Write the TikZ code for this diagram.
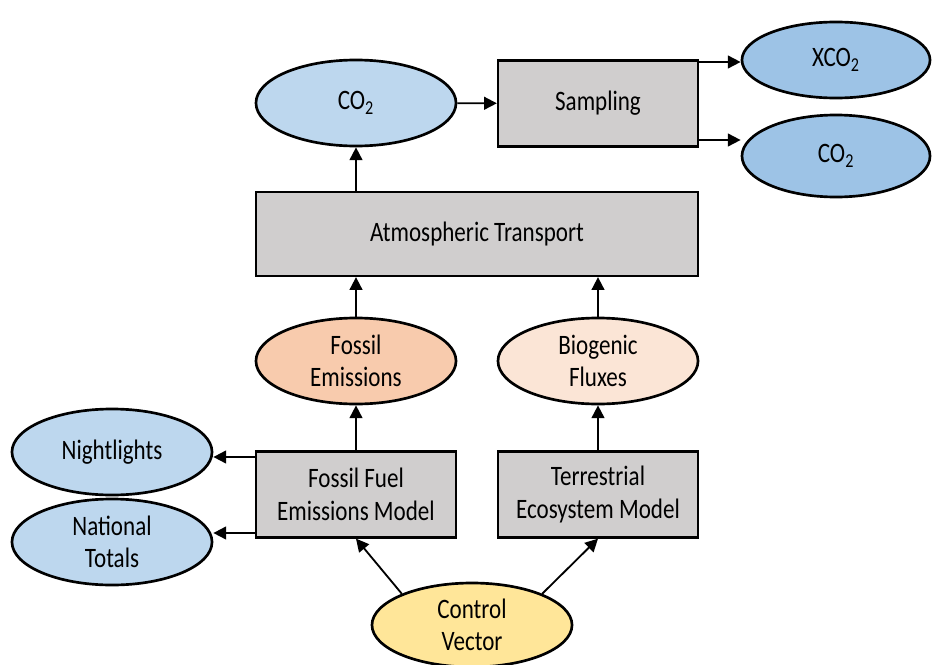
\documentclass[tikz,border=0pt]{standalone}
\usepackage{fontspec}
\setmainfont{Carlito}[FakeStretch=0.82]
\usepackage{tikz}
\usetikzlibrary{arrows.meta,positioning,shapes.geometric}
\definecolor{skyblue}{HTML}{BDD7EE}
\definecolor{midblue}{HTML}{9DC3E6}
\definecolor{peach}{HTML}{F8CBAD}
\definecolor{sand}{HTML}{FBE5D6}
\definecolor{butter}{HTML}{FFE699}
\definecolor{stone}{HTML}{D0CECE}

\begin{document}
\begin{tikzpicture}[
  x=0.025cm, y=-0.025cm,
  font=\fontsize{20}{23}\selectfont,
  model/.style={draw=black, line width=1.6pt, fill=stone, minimum width=5cm, minimum height=2.15cm, align=center, inner sep=0pt},
  blob/.style={ellipse, draw=black, line width=1.9pt, minimum width=5cm, minimum height=2.15cm, align=center, inner sep=0pt},
  arrow/.style={-{Triangle[length=3.2mm,width=3.2mm]}, line width=1.3pt, draw=black}
]
  \useasboundingbox (0,0) rectangle (933,664);

  % top row
  \node[blob, fill=skyblue] (co2) at (356,103) {CO\textsubscript{2}};
  \node[model] (sampling) at (598,103.5) {Sampling};
  \node[blob, fill=midblue, minimum width=4.7cm, minimum height=1.9cm] (xco2) at (836,60) {XCO\textsubscript{2}};
  \node[blob, fill=midblue, minimum width=4.7cm, minimum height=2.05cm] (co2obs) at (836,156) {CO\textsubscript{2}};

  % transport
  \node[model, minimum width=11.05cm, minimum height=2.1cm] (transport) at (477,234) {Atmospheric Transport};

  % fluxes
  \node[blob, fill=peach] (fossil) at (356,361) {Fossil\\Emissions};
  \node[blob, fill=sand] (bio) at (598,361) {Biogenic\\Fluxes};

  % models
  \node[model] (ffem) at (356,494.5) {Fossil Fuel\\Emissions Model};
  \node[model] (tem) at (598,494.5) {Terrestrial\\Ecosystem Model};

  % inventories
  \node[blob, fill=skyblue] (nightlights) at (112,452) {Nightlights};
  \node[blob, fill=skyblue] (totals) at (112,542) {National\\Totals};

  % control
  \node[blob, fill=butter, minimum height=2.1cm] (control) at (472,625) {Control\\Vector};

  \draw[arrow] (co2) -- (sampling);
  \draw[arrow] (sampling.east |- 0,62) -- (xco2.west |- 0,62);
  \draw[arrow] (sampling.east |- 0,140) -- (co2obs.west |- 0,140);
  \draw[arrow] (transport.north -| co2) -- (co2);
  \draw[arrow] (fossil) -- (transport.south -| fossil);
  \draw[arrow] (bio) -- (transport.south -| bio);
  \draw[arrow] (ffem) -- (fossil);
  \draw[arrow] (tem) -- (bio);
  \draw[arrow] (ffem.west |- 0,457) -- (nightlights.east |- 0,457);
  \draw[arrow] (ffem.west |- 0,533) -- (totals.east |- 0,533);
  \draw[arrow] (control.156) -- (ffem.south);
  \draw[arrow] (control.24) -- (tem.south);
\end{tikzpicture}
\end{document}
